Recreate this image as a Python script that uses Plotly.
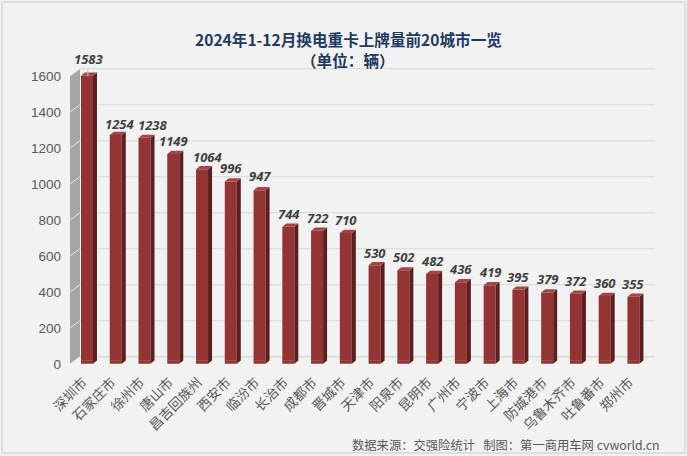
import plotly.graph_objects as go

cities = ["深圳市","石家庄市","徐州市","唐山市","昌吉回族州","西安市","临汾市","长治市","成都市","晋城市",
          "天津市","阳泉市","昆明市","广州市","宁波市","上海市","防城港市","乌鲁木齐市","吐鲁番市","郑州市"]
values = [1583,1254,1238,1149,1064,996,947,744,722,710,530,502,482,436,419,395,379,372,360,355]
y_ticks = [0,200,400,600,800,1000,1200,1400,1600]
# pixel nudges of the value labels
label_dx = [1,4,8,0,5,0,0,1,0,0,0,0,0,0,0,0,0,0,0,0]
label_dy = [17,11,13,13,12,13,14,13,13,13,12,13,13,13,13,13,13,13,13,13]

W, H = 687, 456
L, R, T, B = 70, 655, 68, 364
BASE = 360.7            # pixel row of value 0 on the bars
px_x = 28.76
px_y = 0.18
x0 = -(87 - L) / px_x
x1 = (R - 87) / px_x
ymin = -(B - BASE) / px_y
ymax = (BASE - T) / px_y
ddx = 10 / px_x         # wall depth
back = 4 / px_y         # wall back edge sits this far above the value
bdx, bdy = 4 / px_x, 3.2 / px_y     # bar depth
bw = 12 / px_x
idx = list(range(len(cities)))

fig = go.Figure()

def poly(xs, ys, fill):
    fig.add_trace(go.Scatter(x=xs, y=ys, mode="lines", fill="toself", fillcolor=fill,
                             line=dict(color=fill, width=0), hoverinfo="skip", showlegend=False))

shapes = [dict(type="rect", xref="paper", yref="paper",
               x0=(2 - L) / (R - L), x1=(685 - L) / (R - L),
               y0=(B - 453) / (B - T), y1=(B - 2) / (B - T),
               line=dict(color="#d9d9d9", width=1.5), fillcolor="rgba(0,0,0,0)", layer="below")]
# back wall gridlines and floor
for t in y_ticks:
    shapes.append(dict(type="line", x0=x0 + ddx, x1=x1, y0=t + back, y1=t + back, layer="below",
                       line=dict(color="#dedede", width=2 if t == 0 else 1.3)))
# left wall
wb, wt = y_ticks[0], y_ticks[-1]
shapes.append(dict(type="path", layer="below", line=dict(width=0), fillcolor="#a6a6a6",
                   path=f"M{x0},{wb + ymin} L{x0 + ddx},{wb + back} L{x0 + ddx},{wt + back} L{x0},{wt + ymin} Z"))
for t in y_ticks:
    shapes.append(dict(type="line", x0=x0, x1=x0 + ddx, y0=t + ymin, y1=t + back, layer="below",
                       line=dict(color="#e4e4e4", width=1)))

# bars: footing, side and top faces computed from the values
sx, sy, tx, ty, fx, fy = [], [], [], [], [], []
for i, v in zip(idx, values):
    a, b = i - bw / 2, i + bw / 2
    sx += [b, b + bdx, b + bdx, b, b, None]
    sy += [ymin + 1, ymin + 1 + bdy, v + bdy, v, ymin + 1, None]
    tx += [a, a + bdx, b + bdx, b, a, None]
    ty += [v, v + bdy, v + bdy, v, v, None]
    fx += [a, b, b, a, a, None]
    fy += [ymin + 1, ymin + 1, 1, 1, ymin + 1, None]
fig.add_trace(go.Bar(x=idx, y=values, width=bw, marker=dict(color="#933434", line=dict(width=0)),
                     hoverinfo="skip", showlegend=False))
poly(fx, fy, "#933434")
poly(sx, sy, "#5c1f1f")
poly(tx, ty, "#a34545")

# leader of the first label
fig.add_trace(go.Scatter(x=[idx[0] + 0.03] * 2, y=[values[0] - 5, values[0] + 35], mode="lines",
                         line=dict(color="#c4c4c4", width=1), hoverinfo="skip", showlegend=False))

ann = []
for i, v, d, e in zip(idx, values, label_dx, label_dy):
    ann.append(dict(x=i, y=v, text=f"<b><i>{v}</i></b>", showarrow=False, xshift=d, yshift=e,
                    font=dict(family="Open Sans, Liberation Sans, sans-serif", size=13, color="#404040")))
cx = (348 - L) / (R - L)
title_color = "#1f3a60"
ann.append(dict(xref="paper", yref="paper", x=cx, y=(B - 39) / (B - T), yanchor="middle",
                text="<b>2024年1-12月换电重卡上牌量前20城市一览</b>", showarrow=False,
                font=dict(family="Noto Sans CJK SC", size=15.6, color=title_color)))
ann.append(dict(xref="paper", yref="paper", x=cx, y=(B - 60) / (B - T), yanchor="middle",
                text="<b>（单位：辆）</b>", showarrow=False,
                font=dict(family="Noto Sans CJK SC", size=15.6, color=title_color)))
ann.append(dict(xref="paper", yref="paper", x=(662 - L) / (R - L), y=(B - 445) / (B - T), xanchor="right",
                yanchor="middle", text="数据来源：交强险统计   制图：第一商用车网 cvworld.cn", showarrow=False,
                font=dict(family="Noto Sans CJK SC", size=12.3, color="#595959")))

fig.update_layout(
    width=W, height=H, autosize=False,
    margin=dict(l=L, r=W - R, t=T, b=H - B, pad=0),
    paper_bgcolor="#f2f2f2", plot_bgcolor="rgba(0,0,0,0)",
    barmode="overlay", showlegend=False, annotations=ann, shapes=shapes,
    xaxis=dict(range=[x0, x1], tickmode="array", tickvals=idx, ticktext=cities, tickangle=-45,
               showgrid=False, zeroline=False, showline=False, ticks="", ticklen=0,
               ticklabelstandoff=7, ticklabelshift=-4,
               tickfont=dict(family="Noto Sans CJK SC", size=13.5, color="#595959")),
    yaxis=dict(range=[ymin, ymax], tickmode="array", tickvals=y_ticks, showgrid=False, zeroline=False,
               showline=False, ticks="", ticklabelshift=4, ticklabelstandoff=8,
               tickfont=dict(family="Liberation Sans", size=13.5, color="#595959")),
)
fig.write_html("out.html", config=dict(displayModeBar=False), post_script="document.body.style.margin='0';")
